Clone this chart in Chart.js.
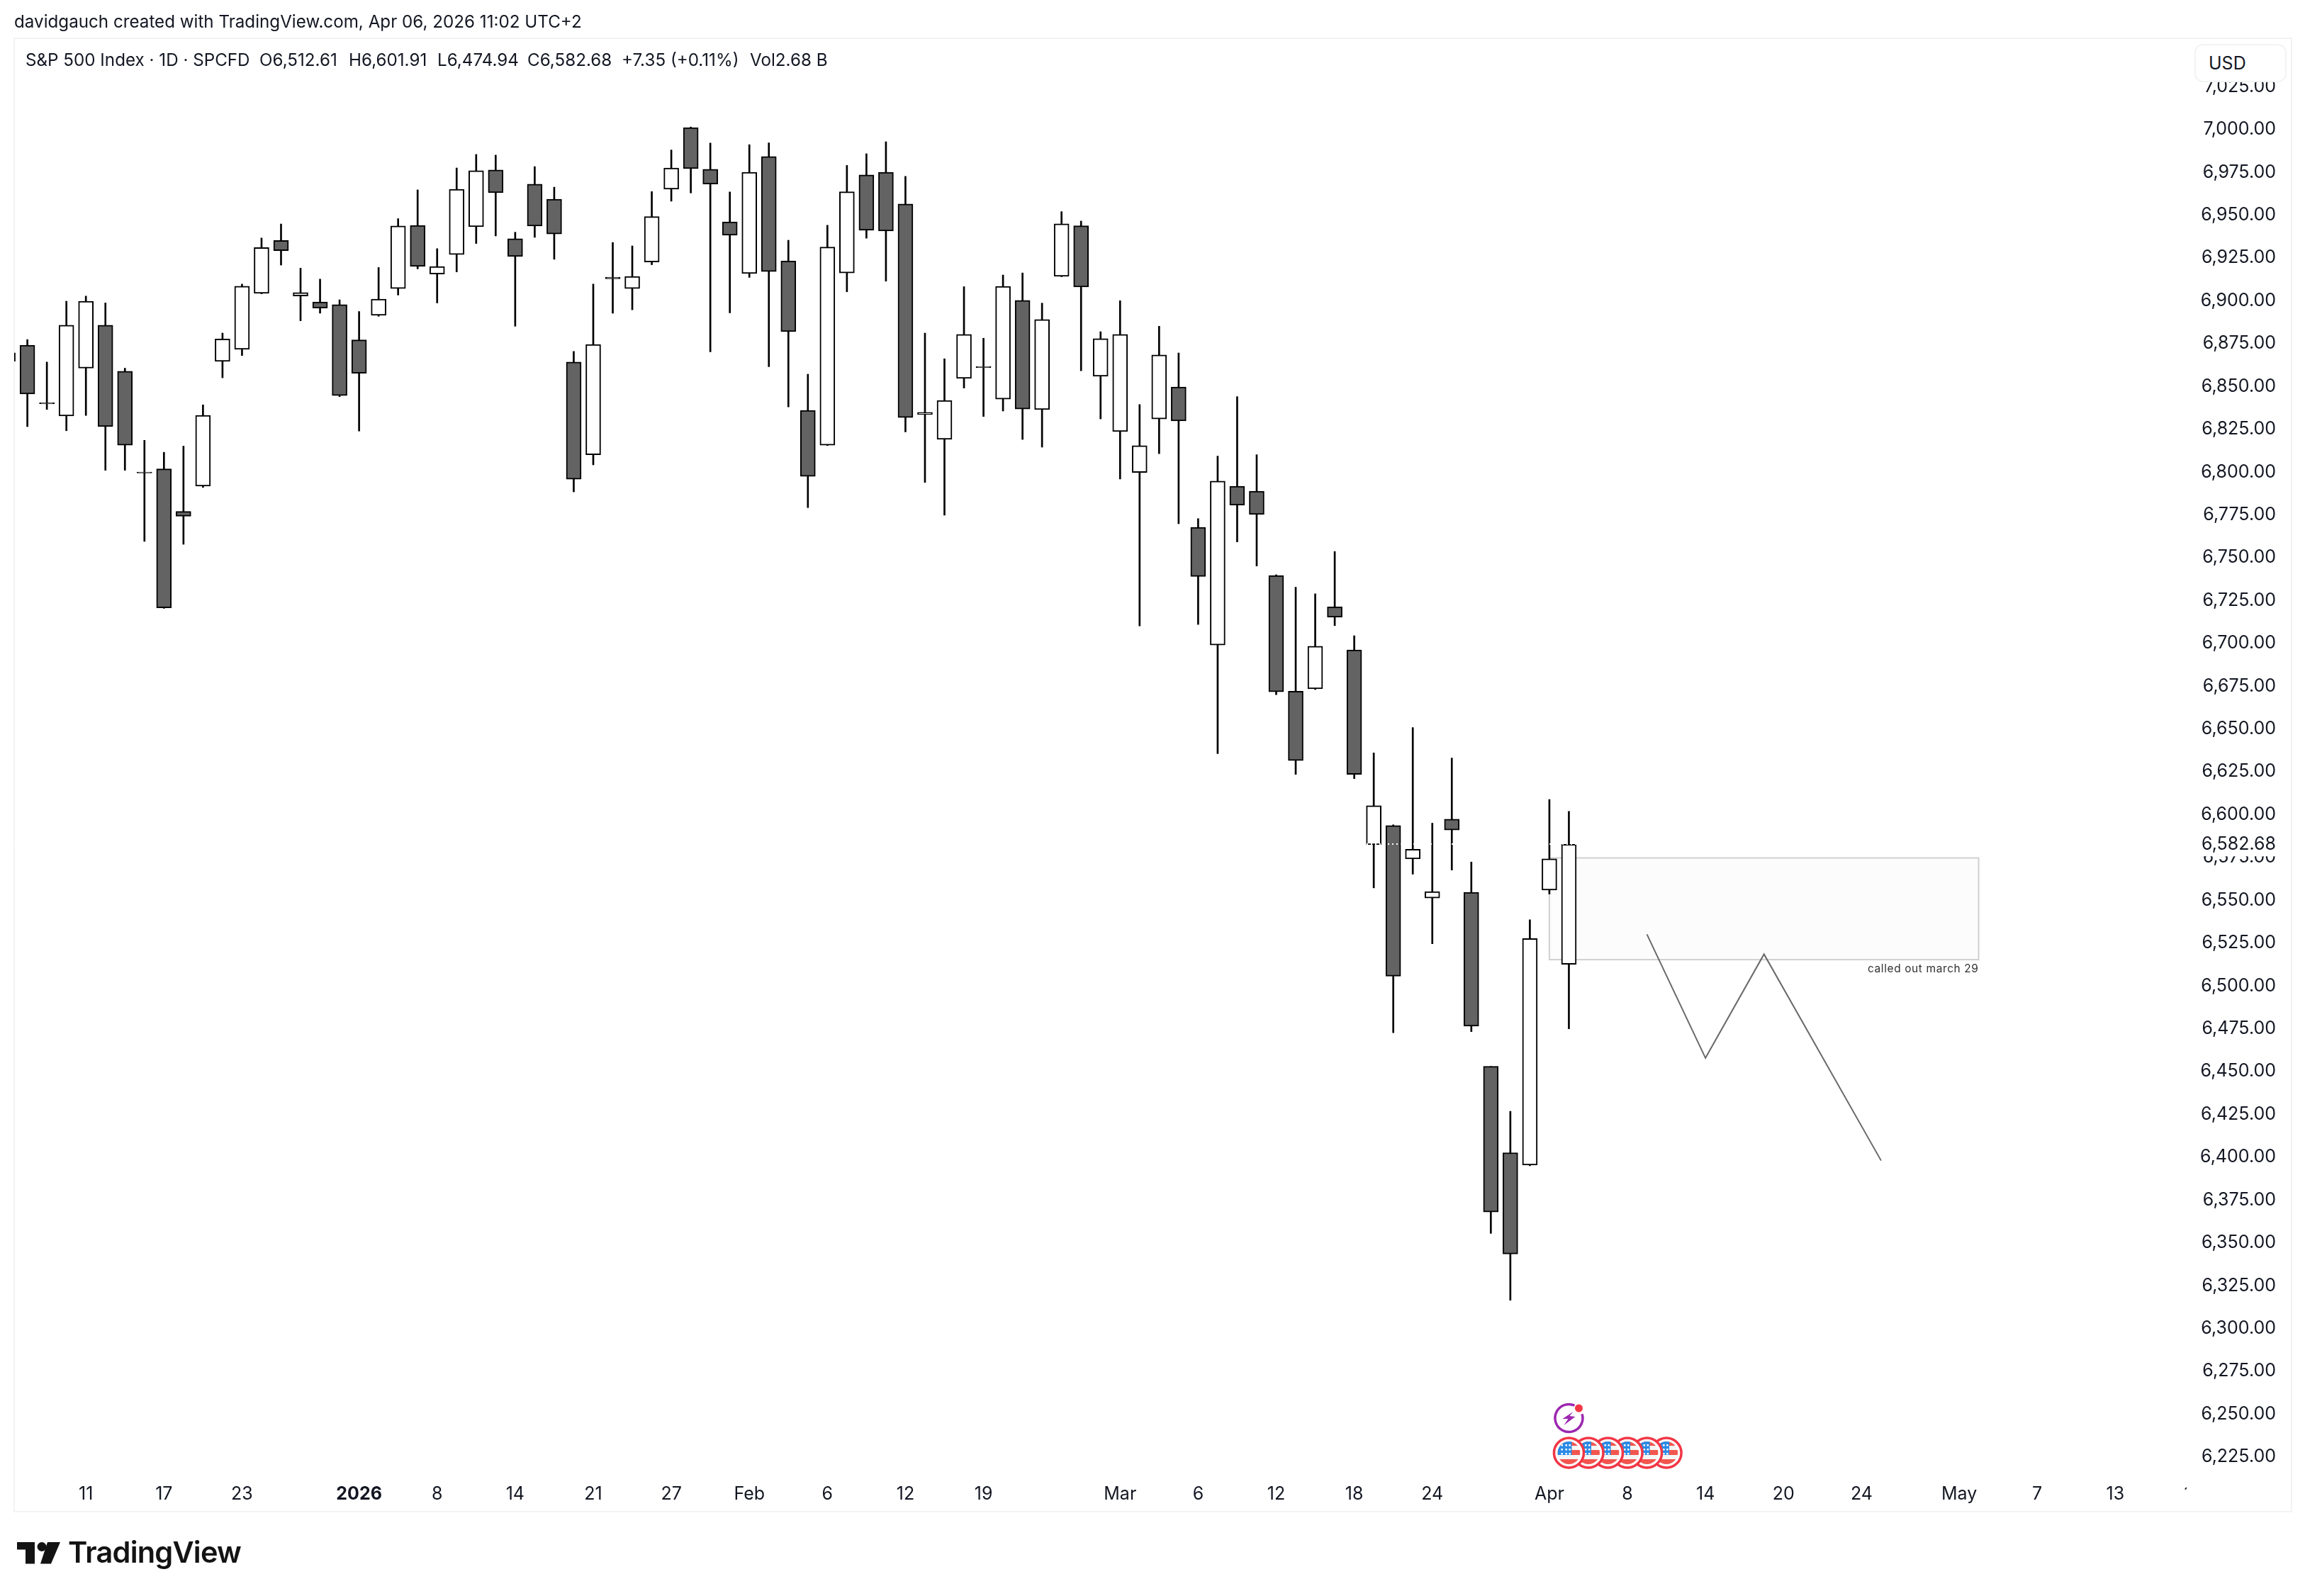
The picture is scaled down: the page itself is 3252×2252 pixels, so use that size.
<!DOCTYPE html>
<html>
<head>
<meta charset="utf-8">
<title>S&amp;P 500 Index</title>
<script src="https://cdn.jsdelivr.net/npm/chart.js@4/dist/chart.umd.min.js"></script>
<style>
  html, body { margin: 0; padding: 0; background: #fff; }
  body { position: relative; width: 3252px; height: 2252px; overflow: hidden; font-family: Inter, sans-serif; color: #131722; }
  #frame { position: absolute; left: 19px; top: 53px; width: 3211px; height: 2077px; border: 2px solid #f2f3f5; }
  #myChart { position: absolute; left: 0; top: 0; }
  .txt { position: absolute; white-space: nowrap; font-size: 24.2px; line-height: 30px; }
  #usd { position: absolute; left: 3096px; top: 62px; width: 126px; height: 50px; border: 2px solid #f2f3f5; border-radius: 12px; background: #fff; font-size: 25px; line-height: 50px; text-indent: 18px; }
  #logo { position: absolute; left: 24px; top: 2176px; }
  #logoText { position: absolute; left: 96px; top: 2165px; font-size: 41.5px; line-height: 50px; font-weight: 600; letter-spacing: -0.8px; color: #131313; }
</style>
</head>
<body>
<div id="frame"></div>
<canvas id="myChart" width="3252" height="2252"></canvas>
<div class="txt" style="left:20px;top:16px">davidgauch created with TradingView.com, Apr 06, 2026 11:02 UTC+2</div>
<div class="txt" style="left:36px;top:70px">S&amp;P 500 Index · 1D · SPCFD</div>
<div class="txt" style="left:366px;top:70px">O6,512.61</div>
<div class="txt" style="left:492px;top:70px">H6,601.91</div>
<div class="txt" style="left:617px;top:70px">L6,474.94</div>
<div class="txt" style="left:744px;top:70px">C6,582.68</div>
<div class="txt" style="left:877px;top:70px">+7.35 (+0.11%)</div>
<div class="txt" style="left:1058px;top:70px">Vol2.68 B</div>
<div id="usd">USD</div>
<svg id="logo" width="62" height="31" viewBox="0 0 62 31">
  <path d="M0 0H25V30.5H12V10.5H0Z" fill="#131313"/>
  <circle cx="35" cy="6.5" r="6.5" fill="#131313"/>
  <path d="M43 0H61L48 30.5H33Z" fill="#131313"/>
</svg>
<div id="logoText">TradingView</div>

<script>
// daily candles, first one is the cut off bar on the left edge
var opens = [6869.6, 6874.0, 6840.4, 6832.7, 6860.6, 6885.7, 6858.8, 6800.0, 6801.8, 6777.0, 6791.8, 6864.6, 6871.6, 6904.3, 6935.2, 6902.7, 6899.3, 6897.7, 6877.1, 6891.5, 6907.1, 6944.0, 6915.6, 6927.0, 6943.2, 6976.3, 6936.2, 6968.1, 6959.3, 6864.2, 6810.1, 6913.8, 6907.1, 6922.6, 6965.1, 7001.0, 6976.7, 6946.0, 6915.9, 6984.2, 6923.2, 6836.0, 6815.7, 6916.2, 6973.4, 6975.0, 6956.5, 6833.6, 6819.1, 6854.6, 6861.6, 6842.6, 6900.2, 6836.4, 6914.2, 6943.7, 6855.9, 6823.6, 6799.7, 6831.0, 6849.6, 6767.7, 6699.0, 6791.7, 6788.8, 6739.6, 6672.0, 6673.4, 6721.3, 6696.1, 6582.4, 6593.6, 6574.1, 6551.3, 6597.3, 6554.6, 6453.0, 6402.6, 6395.4, 6555.9, 6512.61];
var highs = [6875.0, 6877.3, 6864.2, 6899.7, 6902.7, 6898.7, 6860.6, 6818.5, 6811.5, 6815.1, 6839.2, 6881.1, 6909.7, 6936.6, 6944.8, 6919.0, 6912.6, 6900.5, 6893.7, 6919.4, 6947.9, 6964.7, 6930.4, 6977.5, 6985.4, 6985.0, 6940.0, 6978.3, 6966.3, 6870.4, 6909.7, 6934.0, 6932.0, 6963.7, 6988.0, 7001.4, 6992.0, 6963.5, 6991.1, 6992.2, 6935.3, 6857.1, 6944.1, 6979.0, 6985.8, 6992.8, 6972.6, 6881.1, 6866.1, 6908.2, 6878.1, 6915.0, 6916.2, 6898.6, 6952.0, 6946.5, 6881.9, 6900.0, 6839.4, 6885.1, 6869.5, 6772.8, 6809.3, 6844.0, 6810.1, 6740.0, 6732.7, 6728.9, 6753.6, 6704.4, 6636.0, 6594.0, 6650.8, 6595.0, 6633.0, 6572.3, 6453.0, 6426.8, 6538.6, 6608.8, 6601.91];
var lows = [6860.0, 6826.5, 6836.5, 6824.1, 6833.0, 6801.0, 6801.0, 6759.5, 6720.4, 6757.8, 6791.0, 6855.0, 6868.0, 6904.0, 6920.8, 6888.3, 6892.7, 6844.0, 6823.9, 6890.9, 6903.3, 6918.6, 6898.7, 6916.8, 6933.4, 6937.8, 6885.1, 6937.0, 6924.2, 6788.4, 6804.2, 6892.7, 6894.7, 6921.0, 6958.1, 6962.9, 6870.2, 6892.9, 6913.6, 6861.5, 6838.0, 6779.2, 6815.5, 6905.2, 6936.5, 6911.4, 6823.4, 6793.9, 6774.8, 6849.0, 6832.4, 6835.6, 6819.0, 6814.5, 6914.0, 6859.1, 6831.0, 6795.9, 6710.1, 6810.7, 6769.8, 6711.0, 6635.6, 6759.2, 6745.1, 6670.0, 6623.5, 6673.0, 6710.3, 6621.0, 6557.2, 6472.7, 6565.2, 6524.6, 6567.6, 6473.3, 6355.5, 6316.5, 6395.0, 6553.6, 6474.94];
var closes = [6864.6, 6845.6, 6839.8, 6885.7, 6899.7, 6826.5, 6815.7, 6799.4, 6720.7, 6774.2, 6833.1, 6877.7, 6908.5, 6931.0, 6929.2, 6904.7, 6895.7, 6844.6, 6857.6, 6900.9, 6943.6, 6920.0, 6920.0, 6965.1, 6975.9, 6963.1, 6925.8, 6943.6, 6939.0, 6795.8, 6874.4, 6912.8, 6914.2, 6949.1, 6977.5, 6977.1, 6968.1, 6938.2, 6975.0, 6917.0, 6882.0, 6797.5, 6931.3, 6963.6, 6941.1, 6940.7, 6831.8, 6834.8, 6841.8, 6880.3, 6861.0, 6908.4, 6836.8, 6889.0, 6944.9, 6908.0, 6877.9, 6880.3, 6815.4, 6868.3, 6829.8, 6739.0, 6794.7, 6780.7, 6775.2, 6671.7, 6631.5, 6698.3, 6715.2, 6623.5, 6605.2, 6505.7, 6579.8, 6555.0, 6591.0, 6476.5, 6368.0, 6343.5, 6527.6, 6574.2, 6582.68];

var priceTicks = [6225, 6250, 6275, 6300, 6325, 6350, 6375, 6400, 6425, 6450, 6475, 6500, 6525, 6550, 6575, 6600, 6625, 6650, 6675, 6700, 6725, 6750, 6775, 6800, 6825, 6850, 6875, 6900, 6925, 6950, 6975, 7000, 7025];
var timeTickBars = [3, 7, 11, 17, 21, 25, 29, 33, 37, 41, 45, 49, 56, 60, 64, 68, 72, 78, 82, 86, 90, 94, 99, 103, 107, 111];
var timeTickLabels = ['11', '17', '23', '2026', '8', '14', '21', '27', 'Feb', '6', '12', '19', 'Mar', '6', '12', '18', '24', 'Apr', '8', '14', '20', '24', 'May', '7', '13', '19'];

// drawing on the chart: zigzag forecast and the marked zone
var zigzagBars = [83, 86, 89, 95];
var zigzagPrices = [6530.1, 6457.9, 6518.5, 6398.0];
var zoneBars = [78, 100];
var zonePrices = [6515.3, 6574.7];
var zoneNote = 'called out march 29';
var lastPrice = 6582.68;

// events row at the bottom
var flagBars = [79, 80, 81, 82, 83, 84];
var boltBar = 79;

var UP = '#ffffff', DOWN = '#636363', INK = '#000000', TEXT = '#131722';
var FONT = 'Inter, sans-serif';

function fmt(v) {
    return v.toLocaleString('en-US', { minimumFractionDigits: 2, maximumFractionDigits: 2 });
}

var barIndex = opens.map(function (o, i) { return i - 1; });
var wicks = barIndex.map(function (x, i) { return { x: x, y: [lows[i], highs[i]] }; });
var bodies = barIndex.map(function (x, i) { return { x: x, y: [opens[i], closes[i]] }; });
var bodyColors = opens.map(function (o, i) { return closes[i] < o ? DOWN : UP; });
var zigzag = zigzagBars.map(function (x, i) { return { x: x, y: zigzagPrices[i] }; });

function drawFlag(ctx, x, y) {
    ctx.save();
    ctx.beginPath();
    ctx.arc(x, y, 21, 0, Math.PI * 2);
    ctx.fillStyle = '#fff';
    ctx.fill();
    ctx.lineWidth = 3.5;
    ctx.strokeStyle = '#f23645';
    ctx.stroke();
    ctx.beginPath();
    ctx.arc(x, y, 16, 0, Math.PI * 2);
    ctx.clip();
    ctx.fillStyle = '#f5f5f5';
    ctx.fillRect(x - 16, y - 16, 32, 32);
    ctx.fillStyle = '#f2564f';
    ctx.fillRect(x - 16, y - 16, 32, 6);
    ctx.fillRect(x - 16, y - 4, 32, 7);
    ctx.fillRect(x - 16, y + 9, 32, 7);
    ctx.fillStyle = '#2b8ae6';
    ctx.fillRect(x - 16, y - 16, 20, 19);
    ctx.fillStyle = '#fff';
    [-12, -6, 0].forEach(function (dy) {
        [-11, -5, 0].forEach(function (dx) {
            ctx.fillRect(x + dx, y + dy, 2.5, 2.5);
        });
    });
    ctx.restore();
}

function drawBolt(ctx, x, y) {
    ctx.save();
    ctx.strokeStyle = '#9c27b0';
    ctx.fillStyle = '#9c27b0';
    ctx.lineWidth = 3.5;
    ctx.beginPath();
    ctx.arc(x, y, 19.5, -0.3, Math.PI * 2 - 1.15);
    ctx.stroke();
    ctx.beginPath();
    ctx.moveTo(x + 6, y - 9);
    ctx.lineTo(x - 9, y + 1);
    ctx.lineTo(x - 1, y + 1);
    ctx.lineTo(x - 7, y + 10);
    ctx.lineTo(x + 9, y - 2);
    ctx.lineTo(x + 1, y - 3);
    ctx.closePath();
    ctx.fill();
    ctx.fillStyle = '#f23645';
    ctx.beginPath();
    ctx.arc(x + 14, y - 14, 5.5, 0, Math.PI * 2);
    ctx.fill();
    ctx.restore();
}

var chartMarks = {
    id: 'chartMarks',
    beforeDatasetsDraw: function (chart) {
        var ctx = chart.ctx, sx = chart.scales.x, sy = chart.scales.y;
        var left = sx.getPixelForValue(zoneBars[0]);
        var right = sx.getPixelForValue(zoneBars[1]);
        var top = sy.getPixelForValue(zonePrices[1]);
        var bottom = sy.getPixelForValue(zonePrices[0]);
        ctx.save();
        ctx.fillStyle = '#fcfcfc';
        ctx.fillRect(left, top, right - left, bottom - top);
        ctx.strokeStyle = '#d0d0d0';
        ctx.lineWidth = 2;
        ctx.strokeRect(left, top, right - left, bottom - top);
        ctx.restore();
    },
    afterDatasetsDraw: function (chart) {
        var ctx = chart.ctx, area = chart.chartArea, sy = chart.scales.y;
        var y = Math.round(sy.getPixelForValue(lastPrice));
        ctx.save();
        // dotted last price line only shows on top of dark marks
        ctx.strokeStyle = '#fff';
        ctx.lineWidth = 2;
        ctx.setLineDash([2, 4]);
        ctx.beginPath();
        ctx.moveTo(area.left, y);
        ctx.lineTo(area.right, y);
        ctx.stroke();
        ctx.restore();
        // price column cuts off the last time label
        ctx.fillStyle = '#fff';
        ctx.fillRect(area.right - 5, area.bottom + 1, 140, 50);
    },
    afterDraw: function (chart) {
        var ctx = chart.ctx, area = chart.chartArea, sx = chart.scales.x, sy = chart.scales.y;
        var y = sy.getPixelForValue(lastPrice);
        ctx.save();
        ctx.fillStyle = '#fff';
        ctx.fillRect(area.right + 2, y - 16, 136, 33);
        ctx.fillStyle = TEXT;
        ctx.font = '25px ' + FONT;
        ctx.textAlign = 'right';
        ctx.textBaseline = 'middle';
        ctx.fillText(fmt(lastPrice), sx.right + 121, y);

        ctx.fillStyle = '#333';
        ctx.font = '15.5px ' + FONT;
        ctx.letterSpacing = '0.6px';
        ctx.fillText(zoneNote, sx.getPixelForValue(zoneBars[1]), sy.getPixelForValue(zonePrices[0]) + 13);
        ctx.restore();

        flagBars.slice().reverse().forEach(function (b) {
            drawFlag(ctx, sx.getPixelForValue(b), area.bottom - 28);
        });
        drawBolt(ctx, sx.getPixelForValue(boltBar), area.bottom - 77);
    }
};

var myChart = new Chart(document.getElementById('myChart'), {
    data: {
        datasets: [{
            type: 'line',
            data: zigzag,
            borderColor: '#696969',
            borderWidth: 2,
            pointRadius: 0,
            tension: 0,
            order: 0
        }, {
            type: 'bar',
            data: bodies,
            backgroundColor: bodyColors,
            borderColor: INK,
            borderWidth: 2,
            borderSkipped: false,
            barThickness: 21,
            grouped: false,
            order: 1
        }, {
            type: 'bar',
            data: wicks,
            backgroundColor: INK,
            borderWidth: 0,
            barThickness: 2,
            grouped: false,
            order: 2
        }]
    },
    options: {
        responsive: false,
        animation: false,
        events: [],
        layout: {
            autoPadding: false,
            padding: { left: 20, top: 55, right: 41, bottom: 120 }
        },
        plugins: {
            legend: { display: false },
            tooltip: { enabled: false }
        },
        scales: {
            x: {
                type: 'linear',
                offset: false,
                min: -0.676,
                max: 110.84,
                grid: { display: false },
                border: { display: false },
                afterBuildTicks: function (axis) {
                    axis.ticks = timeTickBars.map(function (v) { return { value: v }; });
                },
                afterFit: function (axis) { axis.height = 54; },
                ticks: {
                    autoSkip: false,
                    maxRotation: 0,
                    minRotation: 0,
                    padding: 7,
                    color: TEXT,
                    font: function (c) {
                        var bold = c.tick && c.tick.label === '2026';
                        return { family: FONT, size: 25, weight: bold ? '700' : '400' };
                    },
                    callback: function (v) { return timeTickLabels[timeTickBars.indexOf(v)]; }
                }
            },
            y: {
                type: 'linear',
                position: 'right',
                min: 6215.8,
                max: 7052.8,
                z: 1,
                grid: { display: false },
                border: { display: false },
                afterBuildTicks: function (axis) {
                    axis.ticks = priceTicks.map(function (v) { return { value: v }; });
                },
                afterFit: function (axis) { axis.width = 121; },
                ticks: {
                    autoSkip: false,
                    crossAlign: 'far',
                    color: TEXT,
                    font: { family: FONT, size: 25 },
                    callback: function (v) { return fmt(v); }
                }
            }
        }
    },
    plugins: [chartMarks]
});
</script>
</body>
</html>
